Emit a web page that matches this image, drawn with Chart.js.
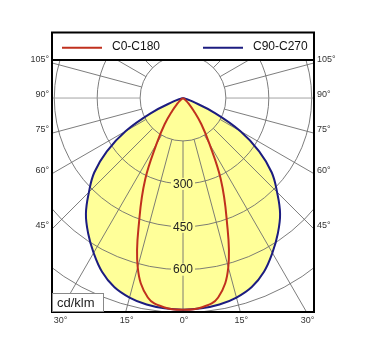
<!DOCTYPE html>
<html>
<head>
<meta charset="utf-8">
<script src="https://cdn.jsdelivr.net/npm/chart.js@4.4.1/dist/chart.umd.min.js"></script>
<style>
  html, body { margin: 0; padding: 0; background: #fff; }
  canvas { display: block; }
</style>
</head>
<body>
<canvas id="myChart" width="371" height="358"></canvas>
<script>
// luminous intensity in cd/klm, read every 5 deg from nadir
const angles = [0, 5, 10, 15, 20, 25, 30, 35, 40, 45, 50, 55, 60, 65, 70, 75, 80, 85, 90];
const c0c180 = [740, 735, 708, 612, 445, 312, 185, 112, 58, 28, 12, 4, 0, 0, 0, 0, 0, 0, 0];
const c90c270 = [740, 738, 733, 722, 703, 670, 625, 578, 528, 465, 405, 325, 232, 120, 35, 8, 0, 0, 0];

const rings = [150, 300, 450, 600, 750, 900];
const ringLabels = [300, 450, 600];
const sideAngles = [45, 60, 75, 90, 105];
const bottomAngles = [-30, -15, 0, 15, 30];
const unitLabel = 'cd/klm';

const yellow = '#ffff99';
const font = '"Liberation Sans", Arial, sans-serif';

// polar (angle from nadir, intensity) -> x/y, left half then right half
function curvePoints(values) {
  const pts = [];
  for (let i = angles.length - 1; i >= 0; i--) {
    const a = angles[i] * Math.PI / 180;
    pts.push({x: -values[i] * Math.sin(a), y: -values[i] * Math.cos(a)});
  }
  for (let i = 1; i < angles.length; i++) {
    const a = angles[i] * Math.PI / 180;
    pts.push({x: values[i] * Math.sin(a), y: -values[i] * Math.cos(a)});
  }
  return pts;
}

const polarGrid = {
  id: 'polarGrid',
  beforeDatasetsDraw(chart) {
    const {ctx, chartArea: area, scales: {x, y}} = chart;
    const cx = x.getPixelForValue(0), cy = y.getPixelForValue(0);
    const k = (x.getPixelForValue(100) - cx) / 100;
    ctx.save();
    ctx.beginPath();
    ctx.rect(area.left, area.top, area.right - area.left, area.bottom - area.top);
    ctx.clip();
    ctx.strokeStyle = '#6e6e6e';
    ctx.lineWidth = 0.9;
    rings.forEach(r => {
      ctx.beginPath();
      ctx.arc(cx, cy, r * k, 0, Math.PI * 2);
      ctx.stroke();
    });
    for (let a = 0; a < 360; a += 15) {
      const t = a * Math.PI / 180;
      const r0 = rings[0] * k, r1 = 1000 * k;
      ctx.strokeStyle = (a === 90 || a === 270) ? '#9a9a9a' : '#6e6e6e';
      ctx.beginPath();
      ctx.moveTo(cx + Math.sin(t) * r0, cy + Math.cos(t) * r0);
      ctx.lineTo(cx + Math.sin(t) * r1, cy + Math.cos(t) * r1);
      ctx.stroke();
    }
    ctx.restore();
  },
  afterDatasetsDraw(chart) {
    const {ctx, scales: {x, y}} = chart;
    const cx = x.getPixelForValue(0);
    ctx.save();
    ctx.font = '12px ' + font;
    ctx.textAlign = 'center';
    ctx.textBaseline = 'middle';
    ringLabels.forEach(v => {
      const py = y.getPixelForValue(-v);
      const w = ctx.measureText(String(v)).width;
      ctx.fillStyle = yellow;
      ctx.fillRect(cx - w / 2 - 2, py - 6, w + 4, 12);
      ctx.fillStyle = '#222';
      ctx.fillText(String(v), cx, py + 0.5);
    });
    ctx.restore();
  },
  afterDraw(chart) {
    const {ctx, chartArea: area, scales: {x, y}} = chart;
    const top = 32.5;
    ctx.save();
    // frame and legend strip
    ctx.strokeStyle = '#000';
    ctx.lineWidth = 2;
    ctx.strokeRect(area.left, top, area.right - area.left, area.bottom - top);
    ctx.beginPath();
    ctx.moveTo(area.left, area.top);
    ctx.lineTo(area.right, area.top);
    ctx.stroke();

    const legendX = [62, 203];
    const ly = (top + area.top) / 2;
    ctx.font = '12px ' + font;
    ctx.textBaseline = 'middle';
    ctx.textAlign = 'left';
    chart.data.datasets.forEach((ds, i) => {
      ctx.strokeStyle = ds.borderColor;
      ctx.lineWidth = 2;
      ctx.beginPath();
      ctx.moveTo(legendX[i], ly + 1.5);
      ctx.lineTo(legendX[i] + 40, ly + 1.5);
      ctx.stroke();
      ctx.fillStyle = '#111';
      ctx.fillText(ds.label, legendX[i] + 50, ly + 0.5);
    });

    // angle labels along the sides
    ctx.font = '9px ' + font;
    ctx.fillStyle = '#333';
    sideAngles.forEach(a => {
      const t = a * Math.PI / 180;
      const py = y.getPixelForValue(-x.max * Math.cos(t) / Math.sin(t)) - 3.5;
      ctx.textAlign = 'right';
      ctx.fillText(a + '°', area.left - 3, py);
      ctx.textAlign = 'left';
      ctx.fillText(a + '°', area.right + 3, py);
    });
    ctx.textAlign = 'center';
    bottomAngles.forEach(a => {
      const t = a * Math.PI / 180;
      const px = x.getPixelForValue(-y.min * Math.tan(t));
      ctx.fillText(Math.abs(a) + '°', px + 1, area.bottom + 9);
    });

    // unit box
    ctx.fillStyle = '#fff';
    ctx.fillRect(area.left + 1, area.bottom - 19, 50, 18);
    ctx.strokeStyle = '#888';
    ctx.lineWidth = 1;
    ctx.strokeRect(area.left + 0.5, area.bottom - 18.5, 51, 18);
    ctx.fillStyle = '#222';
    ctx.font = '13px ' + font;
    ctx.textAlign = 'left';
    ctx.fillText(unitLabel, area.left + 5, area.bottom - 9);
    ctx.restore();
  }
};

const myChart = document.getElementById('myChart').getContext('2d');

new Chart(myChart, {
  type: 'scatter',
  data: {
    datasets: [{
      label: 'C0-C180',
      data: curvePoints(c0c180),
      showLine: true,
      borderColor: '#c0301e',
      borderWidth: 2,
      tension: 0.4,
      pointRadius: 0,
      fill: false
    }, {
      label: 'C90-C270',
      data: curvePoints(c90c270),
      showLine: true,
      borderColor: '#1c1c80',
      backgroundColor: yellow,
      borderWidth: 2,
      tension: 0.4,
      pointRadius: 0,
      fill: 'shape'
    }]
  },
  options: {
    responsive: false,
    animation: false,
    devicePixelRatio: 1,
    layout: {padding: {left: 52, right: 57, top: 60, bottom: 46}},
    scales: {
      x: {type: 'linear', min: -458, max: 458, display: false},
      y: {type: 'linear', min: -748, max: 133, display: false}
    },
    plugins: {
      legend: {display: false},
      tooltip: {enabled: false},
      filler: {drawTime: 'beforeDraw'}
    }
  },
  plugins: [polarGrid]
});
</script>
</body>
</html>
